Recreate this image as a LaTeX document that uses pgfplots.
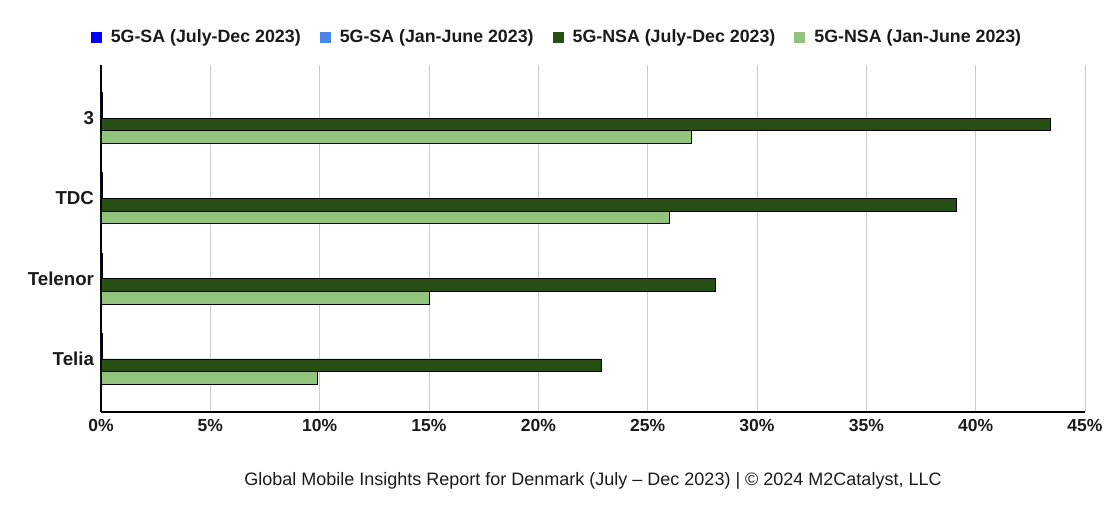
\documentclass[border=0pt]{standalone}
\usepackage{fontspec}
\setmainfont{Liberation Sans}
\usepackage{pgfplots}
\pgfplotsset{compat=1.18}
\definecolor{saJul}{HTML}{0000FF}
\definecolor{saJan}{HTML}{4A86E8}
\definecolor{nsaJul}{HTML}{274E13}
\definecolor{nsaJan}{HTML}{93C47D}
\definecolor{gridc}{HTML}{CCCCCC}
\definecolor{txt}{HTML}{1A1A1A}
\begin{document}
\begin{tikzpicture}[x=1pt,y=1pt]
\useasboundingbox (-101,-105) rectangle (1009,412);
\begin{axis}[
  at={(0,0)}, anchor=south west,
  scale only axis, width=984pt, height=347pt,
  xbar=0pt, bar width=12.75pt,
  xmin=0, xmax=45, ymin=-0.66, ymax=3.66, y dir=reverse,
  ytick={0,1,2,3}, yticklabels={3,TDC,Telenor,Telia},
  xtick={0,5,...,45},
  xticklabels={0\%,5\%,10\%,15\%,20\%,25\%,30\%,35\%,40\%,45\%},
  xmajorgrids, grid style={gridc, line width=1pt},
  axis x line*=bottom, axis y line*=left,
  axis line style={-, black, line width=1.2pt},
  major tick length=0pt, tick style={draw=none},
  xticklabel style={font=\bfseries\fontsize{17.5}{20}\selectfont, text=txt, yshift=-4pt},
  yticklabel style={font=\bfseries\fontsize{18.7}{21}\selectfont, text=txt, xshift=-3.5pt},
  legend columns=4,
  legend style={at={(0.5,1)}, anchor=center, xshift=-36pt, yshift=28pt,
    draw=none, fill=none, font=\bfseries\fontsize{17.8}{21}\selectfont, text=txt,
    /tikz/every even column/.append style={column sep=17pt},
    /tikz/every odd column/.append style={column sep=7pt}},
  legend image code/.code={\fill[#1,draw=none] (0pt,-5.5pt) rectangle (11pt,5.5pt);},
  every axis plot/.append style={draw=black, line width=0.9pt},
]
\addplot[fill=saJul, bar shift=19.125pt] coordinates {(0.05,0) (0.05,1) (0.05,2) (0.05,3)};
\addlegendentry{5G-SA (July-Dec 2023)}
\addplot[fill=saJan, bar shift=6.375pt] coordinates {(0.05,0) (0.05,1) (0.05,2) (0.05,3)};
\addlegendentry{5G-SA (Jan-June 2023)}
\addplot[fill=nsaJul, bar shift=-6.375pt] coordinates {(43.4,0) (39.1,1) (28.1,2) (22.9,3)};
\addlegendentry{5G-NSA (July-Dec 2023)}
\addplot[fill=nsaJan, bar shift=-19.125pt] coordinates {(27.0,0) (26.0,1) (15.0,2) (9.9,3)};
\addlegendentry{5G-NSA (Jan-June 2023)}
\end{axis}
\node[font=\fontsize{18}{21}\selectfont, text=txt] at (492,-69) {Global Mobile Insights Report for Denmark (July – Dec 2023) | © 2024 M2Catalyst, LLC};
\end{tikzpicture}
\end{document}
